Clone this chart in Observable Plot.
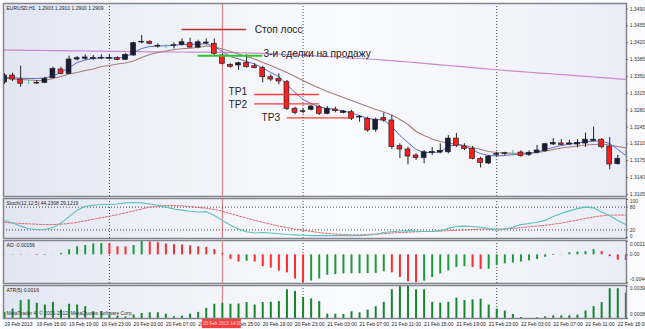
<!DOCTYPE html>
<html><head><meta charset="utf-8">
<script src="https://cdn.jsdelivr.net/npm/d3@7"></script>
<script src="https://cdn.jsdelivr.net/npm/@observablehq/plot@0.6"></script>
<style>
html,body{margin:0;padding:0;background:#fff;}
#wrap{position:relative;width:645px;height:329px;overflow:hidden;background:#fbfbfd;font-family:"Liberation Sans",Arial,sans-serif;}
.bg{position:absolute;left:3px;width:623px;background:linear-gradient(to right,#e2e6f3 0%,#f1f3fa 30%,#fafbfe 55%,#f3f4fb 80%,#eaecf7 100%);}
.pn{position:absolute;left:0;}
</style></head><body><div id="wrap"></div>
<script>
// ---------- DATA ----------
const symbolTitle = "EURUSD,H1  1.2903 1.2910 1.2900 1.2909";
const stochTitle = "Stoch(12,12,5) 44.2308 29.1219";
const aoTitle = "AO -0.00156";
const atrTitle = "ATR(5) 0.0016";
const copyright = "MetaTrader 4, © 2001-2012, MetaQuotes Software Corp.";

const timeLabels = ["19 Feb 2013","19 Feb 15:00","19 Feb 19:00","19 Feb 23:00","20 Feb 03:00","20 Feb 07:00","20 Feb 11:00","20 Feb 15:00","20 Feb 19:00","20 Feb 23:00","21 Feb 03:00","21 Feb 07:00","21 Feb 11:00","21 Feb 15:00","21 Feb 19:00","21 Feb 23:00","22 Feb 03:00","22 Feb 07:00","22 Feb 11:00","22 Feb 15:00"];
const timeLabelBars = [0,4,8,12,16,20,24,28,32,36,40,44,48,52,56,60,64,68,72,76];
const daySeparators = [13,37,61];
const markerBar = 27;
const markerLabel = "20 Feb 2013 14:00";

const priceTicks = [1.3490,1.3455,1.3420,1.3385,1.3350,1.3315,1.3280,1.3245,1.3210,1.3175,1.3140,1.3105];

const open = [1.33374,1.33519,1.33436,1.33367,1.33353,1.33367,1.33463,1.33644,1.33554,1.33851,
1.33866,1.33866,1.33872,1.33868,1.33878,1.33845,1.33934,1.34204,1.34219,1.34121,
1.34127,1.34136,1.34156,1.34190,1.34100,1.34183,1.34177,1.33934,1.33741,1.33727,
1.33783,1.33712,1.33671,1.33484,1.33450,1.33380,1.32828,1.32765,1.32807,1.32861,
1.32724,1.32813,1.32744,1.32757,1.32647,1.32620,1.32392,1.32633,1.32585,1.32052,
1.31983,1.31858,1.31806,1.31910,1.31920,1.31925,1.32209,1.32045,1.31997,1.31790,
1.31692,1.31872,1.31893,1.31906,1.31920,1.31872,1.31914,1.31948,1.32087,1.32109,
1.32087,1.32087,1.32107,1.32159,1.32186,1.32045,1.31678,1.31898];
const high = [1.33561,1.33567,1.33712,1.33415,1.33415,1.33484,1.33691,1.33691,1.33920,1.33913,
1.33949,1.33934,1.33949,1.33949,1.33907,1.33970,1.34210,1.34349,1.34239,1.34177,
1.34156,1.34198,1.34281,1.34293,1.34252,1.34281,1.34281,1.33970,1.33762,1.33795,
1.33949,1.33762,1.33712,1.33534,1.33554,1.33415,1.32861,1.32828,1.32896,1.32896,
1.32875,1.32861,1.32792,1.32792,1.32689,1.32653,1.32633,1.32741,1.32689,1.32102,
1.32031,1.31893,1.31962,1.32024,1.32102,1.32273,1.32315,1.32102,1.32045,1.31823,
1.31858,1.31925,1.31925,1.31962,1.31954,1.31954,1.32066,1.32109,1.32209,1.32186,
1.32170,1.32186,1.32323,1.32448,1.32209,1.32232,1.31858,1.31962];
const low = [1.33332,1.33394,1.33276,1.33332,1.33332,1.33347,1.33450,1.33534,1.33540,1.33824,
1.33837,1.33837,1.33845,1.33845,1.33824,1.33830,1.33920,1.34177,1.34156,1.34086,
1.34073,1.34073,1.34127,1.34086,1.34073,1.34156,1.33920,1.33741,1.33671,1.33623,
1.33671,1.33658,1.33367,1.33394,1.33326,1.32792,1.32703,1.32724,1.32786,1.32689,
1.32703,1.32744,1.32724,1.32585,1.32550,1.32342,1.32342,1.32550,1.31983,1.31796,
1.31665,1.31754,1.31686,1.31858,1.31893,1.31893,1.32024,1.31962,1.31769,1.31599,
1.31671,1.31823,1.31858,1.31850,1.31823,1.31837,1.31893,1.31925,1.32066,1.32066,
1.32066,1.32016,1.32024,1.32138,1.31997,1.31563,1.31661,1.31817];
const close = [1.33519,1.33436,1.33347,1.33367,1.33363,1.33450,1.33658,1.33554,1.33851,1.33878,
1.33893,1.33886,1.33886,1.33882,1.33845,1.33949,1.34190,1.34219,1.34177,1.34136,
1.34127,1.34148,1.34210,1.34100,1.34210,1.34204,1.33970,1.33762,1.33700,1.33774,
1.33691,1.33671,1.33484,1.33436,1.33394,1.32828,1.32744,1.32778,1.32875,1.32724,
1.32828,1.32778,1.32772,1.32620,1.32657,1.32377,1.32599,1.32585,1.32031,1.31983,
1.31837,1.31806,1.31925,1.31933,1.31956,1.32209,1.32056,1.31997,1.31790,1.31703,
1.31837,1.31893,1.31906,1.31906,1.31848,1.31914,1.31962,1.32093,1.32118,1.32078,
1.32109,1.32122,1.32186,1.32186,1.32031,1.31671,1.31790,1.31898];

const maFast = [1.33484,1.33473,1.33463,1.33457,1.33457,1.33467,1.33509,1.33581,1.33685,1.33789,
1.33841,1.33872,1.33886,1.33886,1.33878,1.33903,1.33996,1.34080,1.34121,1.34131,
1.34136,1.34142,1.34163,1.34163,1.34173,1.34177,1.34121,1.34017,1.33913,1.33862,
1.33810,1.33758,1.33675,1.33581,1.33498,1.33332,1.33166,1.33021,1.32938,1.32865,
1.32834,1.32813,1.32782,1.32741,1.32689,1.32626,1.32606,1.32595,1.32460,1.32273,
1.32128,1.31983,1.31920,1.31920,1.31931,1.32045,1.32093,1.32056,1.31968,1.31898,
1.31858,1.31850,1.31858,1.31876,1.31882,1.31904,1.31920,1.31983,1.32024,1.32066,
1.32093,1.32118,1.32138,1.32159,1.32159,1.32107,1.31983,1.31858];
const maSlow = [1.33463,1.33446,1.33436,1.33426,1.33415,1.33415,1.33457,1.33498,1.33550,1.33581,
1.33623,1.33654,1.33706,1.33727,1.33758,1.33779,1.33820,1.33893,1.33955,1.33996,
1.34028,1.34059,1.34073,1.34086,1.34100,1.34131,1.34111,1.34069,1.34017,1.33965,
1.33913,1.33862,1.33789,1.33727,1.33654,1.33581,1.33498,1.33415,1.33332,1.33260,
1.33187,1.33125,1.33062,1.33000,1.32938,1.32875,1.32813,1.32761,1.32699,1.32606,
1.32502,1.32356,1.32273,1.32199,1.32149,1.32118,1.32097,1.32066,1.32024,1.31983,
1.31941,1.31920,1.31910,1.31906,1.31906,1.31910,1.31920,1.31948,1.31983,1.32014,
1.32035,1.32055,1.32076,1.32087,1.32097,1.32076,1.32045,1.32016];
const maLong = [1.34048,1.34046,1.34044,1.34042,1.34040,1.34038,1.34036,1.34034,1.34032,1.34030,
1.34028,1.34026,1.34024,1.34021,1.34019,1.34017,1.34015,1.34013,1.34011,1.34011,
1.34009,1.34007,1.34007,1.34005,1.34005,1.34003,1.34001,1.33999,1.33996,1.33992,
1.33988,1.33984,1.33978,1.33972,1.33963,1.33955,1.33947,1.33938,1.33930,1.33922,
1.33913,1.33903,1.33893,1.33882,1.33872,1.33862,1.33851,1.33839,1.33826,1.33814,
1.33799,1.33785,1.33770,1.33756,1.33741,1.33727,1.33712,1.33698,1.33683,1.33668,
1.33654,1.33639,1.33625,1.33612,1.33600,1.33587,1.33575,1.33563,1.33550,1.33538,
1.33525,1.33513,1.33500,1.33488,1.33475,1.33463,1.33450,1.33438];

// trade levels drawn on the chart
const levelNames = ["Стоп лосс","3-и сделки на продажу","TP1","TP2","TP3"];
const levelPrices = [1.34474,1.33928,1.33125,1.32932,1.32641];
const levelFrom = [22,24,31,31,35];
const levelTo = [30,32,39,39,43];
const levelLabelBar = [31,32.1,27.75,27.75,31.85];
const levelLabelNudge = [0,-2.5,-2.3,1.2,0];

const stochMain = [45,38,30,23,21,21,26,38,55,72,82,85,87,87,88,91,92,91,88,85,
80,75,72,69,67,68,58,45,33,22,15,12,13,12,10,8,7,6,5,5,
5,5,5,5,5,6,8,13,15,17,18,17,16,16,18,24,29,30,29,27,
24,20,21,27,34,37,40,45,55,63,70,76,80,78,67,57,45,34];
const stochSignal = [40,38,37,36,35,34,34,35,37,40,44,48,52,56,60,65,70,75,80,82,
84,84,83,81,79,77,74,69,63,57,51,45,40,35,30,26,22,19,16,13,
11,9,8,7,7,8,9,10,12,13,14,15,16,16,17,18,19,20,21,22,
22,22,23,24,26,28,30,32,35,38,42,46,50,54,57,59,59,59];
const stochLevels = [80,20];
const stochTicks = [100,80,20,0];

const ao = [0.00003,0.00005,0.00006,0.00002,-0.00010,-0.00008,0.00002,0.00020,0.00077,0.00128,
0.00148,0.00173,0.00180,0.00175,0.00128,0.00126,0.00148,0.00212,0.00205,0.00193,
0.00173,0.00160,0.00158,0.00141,0.00128,0.00116,0.00083,0.00020,-0.00074,-0.00114,
-0.00103,-0.00114,-0.00188,-0.00211,-0.00257,-0.00286,-0.00383,-0.00440,-0.00417,-0.00383,
-0.00325,-0.00314,-0.00303,-0.00301,-0.00300,-0.00298,-0.00295,-0.00268,-0.00286,-0.00360,
-0.00428,-0.00440,-0.00417,-0.00360,-0.00303,-0.00257,-0.00200,-0.00188,-0.00200,-0.00234,
-0.00228,-0.00171,-0.00143,-0.00131,-0.00114,-0.00097,-0.00074,-0.00040,-0.00011,-0.00003,
0.00032,0.00045,0.00051,0.00083,0.00051,-0.00029,-0.00086,-0.00090];
const aoTicks = [0.00212,0,-0.00440];

const atr = [0.00139,0.00171,0.00253,0.00259,0.00227,0.00210,0.00236,0.00161,0.00217,0.00210,
0.00194,0.00145,0.00145,0.00113,0.00103,0.00096,0.00113,0.00129,0.00135,0.00135,
0.00122,0.00096,0.00103,0.00122,0.00139,0.00178,0.00217,0.00227,0.00217,0.00220,
0.00233,0.00210,0.00233,0.00236,0.00243,0.00357,0.00341,0.00282,0.00269,0.00243,
0.00122,0.00122,0.00119,0.00145,0.00135,0.00161,0.00194,0.00236,0.00357,0.00390,
0.00390,0.00357,0.00357,0.00236,0.00227,0.00236,0.00276,0.00253,0.00259,0.00266,
0.00210,0.00171,0.00152,0.00119,0.00090,0.00080,0.00087,0.00096,0.00106,0.00106,
0.00106,0.00113,0.00152,0.00194,0.00233,0.00367,0.00367,0.00325];
const atrTicks = [0.0039,0.0008];

// ---------- BUILD ----------
const candles = open.map((o, i) => ({i, o, h: high[i], l: low[i], c: close[i]}));
const series = (arr) => arr.map((v, i) => ({i, v}));
const levels = levelNames.map((name, k) => ({name, p: levelPrices[k], x1: levelFrom[k], x2: levelTo[k], lx: levelLabelBar[k]}));
const aoData = ao.map((v, i) => ({i, v, up: i === 0 || v > ao[i - 1]}));

const wrap = document.getElementById("wrap");
const W = 645, ML = 3, MR = 19;
const X0 = -0.125, X1 = 77.08;
const xScale = {domain: [X0, X1], axis: null};
const font = "Liberation Sans, Arial, sans-serif";
const dayRule = Plot.ruleX(daySeparators, {stroke: "#333", strokeDasharray: "1,2", strokeWidth: 0.9});
const markRule = Plot.ruleX([markerBar], {stroke: "#e07070", strokeWidth: 1});
const candleColor = d => d.c > d.o ? "#1a1d3a" : d.c < d.o ? "#ff1c1c" : "#3fc48e";

// right-hand value labels: short tick marks just outside the frame, plus text with a per-label vertical nudge
function rightScale(ticks, fmt, nudges) {
  return [
    Plot.ruleY(ticks, {y: d => d, x1: X1, x2: X1 + 0.25, stroke: "#555", strokeWidth: 0.8}),
    ...ticks.map((t, k) => Plot.text([t], {y: d => d, frameAnchor: "right", textAnchor: "start", dx: 3.3, dy: nudges[k], text: fmt, fontSize: 5, fill: "#333"}))
  ];
}

function addPanel(top, bottom, y, marks) {
  const bg = document.createElement("div");
  bg.className = "bg";
  bg.style.top = top + "px";
  bg.style.height = (bottom - top) + "px";
  wrap.appendChild(bg);
  const p = Plot.plot({
    width: W, height: bottom - top + 2,
    marginLeft: ML, marginRight: MR, marginTop: 1, marginBottom: 1,
    x: xScale, y: {...y, axis: null},
    style: {background: "transparent", fontFamily: font, fontSize: "5px", color: "#333", overflow: "visible"},
    marks
  });
  p.classList.add("pn");
  p.style.top = (top - 1) + "px";
  wrap.appendChild(p);
}

// Main price panel
addPanel(3, 196, {domain: [1.31007, 1.35014]}, [
  dayRule, markRule,
  Plot.line(series(maLong), {x: "i", y: "v", stroke: "#c98acb", strokeWidth: 1.2}),
  Plot.line(series(maSlow), {x: "i", y: "v", stroke: "#a87c78", strokeWidth: 1.1}),
  Plot.line(series(maFast), {x: "i", y: "v", stroke: "#5f6bd0", strokeWidth: 1}),
  Plot.ruleX(candles, {x: "i", y1: "l", y2: "h", stroke: d => d.o === d.c ? "#3fc48e" : "#222", strokeWidth: 1, clip: true}),
  Plot.rect(candles, {x1: d => d.i - 0.3, x2: d => d.i + 0.3, y1: "o", y2: "c", fill: candleColor, stroke: d => d.o === d.c ? "#3fc48e" : "#222", strokeWidth: 0.7, clip: true}),
  Plot.ruleY(levels, {y: "p", x1: "x1", x2: "x2",
    stroke: (d, k) => k === 0 ? "#b03434" : k === 1 ? "#2ec42e" : "#ff3b3b",
    strokeWidth: (d, k) => k === 1 ? 2 : 1.3}),
  ...levels.map((lv, k) => Plot.text([lv], {x: "lx", y: "p", text: "name", textAnchor: "start", fontSize: 10.2, fill: "#222", dy: levelLabelNudge[k]})),
  Plot.text([symbolTitle], {frameAnchor: "top-left", dx: 3, dy: 3, fontSize: 5, fill: "#222"}),
  Plot.frame({stroke: "#85858f", strokeWidth: 1.5}),
  ...rightScale(priceTicks, d => d.toFixed(4), priceTicks.map(() => 0))
]);

// Stochastic panel
addPanel(198, 238, {domain: [-2.6, 102.6]}, [
  dayRule, markRule,
  Plot.ruleY(stochLevels, {stroke: "#333", strokeDasharray: "1,2", strokeWidth: 0.9}),
  Plot.line(series(stochSignal), {x: "i", y: "v", stroke: "#e06a6a", strokeDasharray: "2,1.5", strokeWidth: 1}),
  Plot.line(series(stochMain), {x: "i", y: "v", stroke: "#5cc0bc", strokeWidth: 1.1}),
  Plot.text([stochTitle], {frameAnchor: "top-left", dx: 3, dy: 3, fontSize: 5, fill: "#222"}),
  Plot.frame({stroke: "#85858f", strokeWidth: 1.5}),
  ...rightScale(stochTicks, d => String(d), [2, 0, 0, -1])
]);

// Awesome Oscillator panel
addPanel(240, 283, {domain: [-0.00455, 0.00227]}, [
  dayRule, markRule,
  Plot.ruleX(aoData, {x: "i", y1: 0, y2: "v", stroke: d => d.up ? "#1d9a3a" : "#ff2a2a", strokeWidth: 2}),
  Plot.text([aoTitle], {frameAnchor: "top-left", dx: 3, dy: 3, fontSize: 5, fill: "#222"}),
  Plot.frame({stroke: "#85858f", strokeWidth: 1.5}),
  ...rightScale(aoTicks, d => d === 0 ? "0.00" : d.toFixed(5), [3, 0, -3])
]);

// ATR panel
addPanel(285, 318, {domain: [0.0008, 0.00398]}, [
  dayRule, markRule,
  Plot.ruleX(series(atr), {x: "i", y1: 0.0008, y2: "v", stroke: "#16862c", strokeWidth: 2}),
  Plot.text([atrTitle], {frameAnchor: "top-left", dx: 3, dy: 3, fontSize: 5, fill: "#222"}),
  Plot.text([copyright], {frameAnchor: "bottom-left", dx: 3, dy: -4, fontSize: 5, fill: "#333"}),
  Plot.frame({stroke: "#85858f", strokeWidth: 1.5}),
  ...rightScale(atrTicks, d => d.toFixed(4), [2, -4])
]);

// Time axis
const tAxis = Plot.plot({
  width: W, height: 11, marginLeft: ML, marginRight: MR, marginTop: 0, marginBottom: 0,
  x: xScale, y: {domain: [0, 1], axis: null},
  style: {background: "transparent", fontFamily: font, fontSize: "5px", overflow: "visible"},
  marks: [
    Plot.text(timeLabelBars, {x: d => d, y: 0.5, text: (d, k) => timeLabels[k], textAnchor: "start", fontSize: 5, fill: "#222"}),
    Plot.rect([markerBar], {x1: d => d - 2.48, x2: d => d + 2.35, y1: 0.08, y2: 0.92, fill: "#f04040"}),
    Plot.text([markerBar], {x: d => d, y: 0.5, text: () => markerLabel, fontSize: 4.6, fill: "#ffd8d8"})
  ]
});
tAxis.classList.add("pn");
tAxis.style.top = "318px";
wrap.appendChild(tAxis);
</script></body></html>
